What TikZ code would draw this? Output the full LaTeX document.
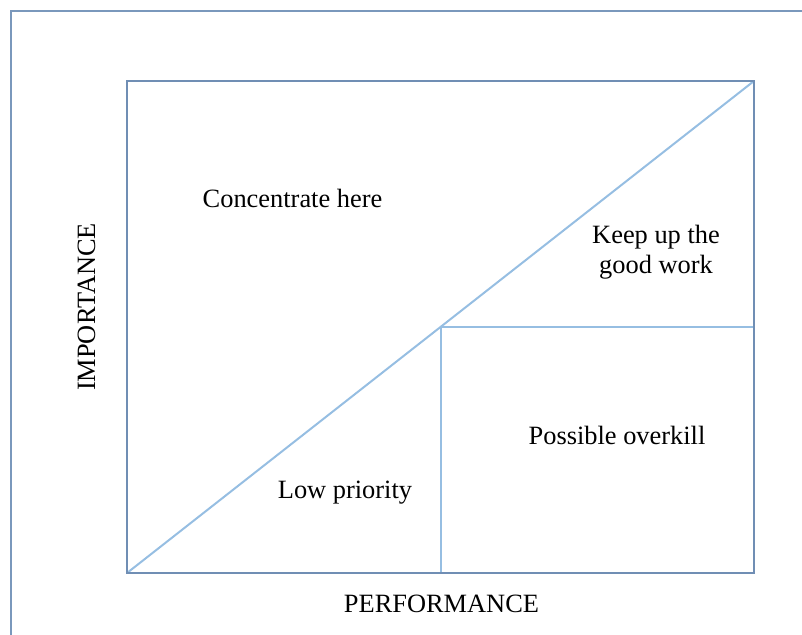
\documentclass[tikz,border=0pt]{standalone}
\usepackage{fontspec}
\setmainfont{Liberation Serif}
\usepackage{tikz}
\definecolor{frameblue}{RGB}{122,152,188}
\definecolor{boxblue}{RGB}{112,142,180}
\definecolor{lineblue}{RGB}{150,190,226}
\newcommand{\ipaFont}{\fontsize{26.5}{30}\selectfont}

\begin{document}
\begin{tikzpicture}[x=1bp, y=-1bp, every node/.style={font=\ipaFont, inner sep=0pt},
		quadlabel/.style={anchor=base, align=center},
		divider/.style={lineblue, line width=2bp}]
	\useasboundingbox (0,0) rectangle (802,635);
	% outer frame, only top and left visible
	\draw[frameblue, line width=2.6bp] (11,635) -- (11,11) -- (802,11);
	% corners of the grid
	\coordinate (ll) at (127,573);
	\coordinate (ur) at (754,81);
	\coordinate (mid) at (441,326.6);
	\coordinate (midbot) at (441,573);
	\coordinate (midright) at (754,326.6);
	\draw[divider] (ll) -- (ur);
	\draw[divider] (midbot) -- (mid) -- (midright);
	\draw[boxblue, line width=2.4bp] (ll) rectangle (ur);
	% quadrant labels
	\node[quadlabel] (conc) at (292.5,208) {Concentrate here};
	\node[quadlabel, anchor=center] (keep) at (656,252) {Keep up the\\good work};
	\node[quadlabel] (over) at (617,444) {Possible overkill};
	\node[quadlabel] (low) at (345,498) {Low priority};
	% axes
	\node[anchor=base] (perf) at (441.5,612) {PERFORMANCE};
	\node[anchor=base, rotate=90] (imp) at (95,307) {IMPORTANCE};
\end{tikzpicture}
\end{document}
